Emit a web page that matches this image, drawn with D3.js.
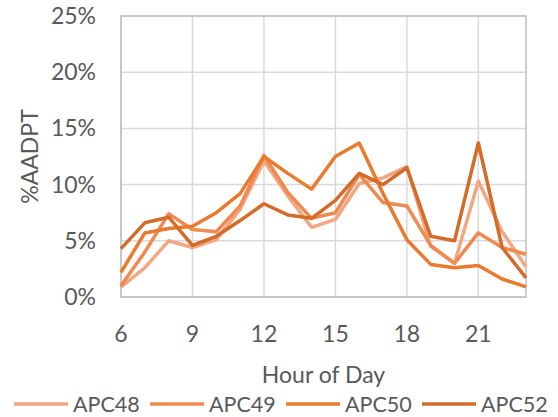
<!DOCTYPE html>
<html lang="en">
<head>
    <meta charset="UTF-8">
    <title>%AADPT by Hour of Day</title>
    <script src="https://d3js.org/d3.v7.min.js"></script>
    <style>
        body { margin: 0; background: #fff; font-family: 'Lato', sans-serif; }
        text { fill: #595959; }
    </style>
</head>
<body>
<div id="chart"></div>
<script>
    // data
    const hours = [6, 7, 8, 9, 10, 11, 12, 13, 14, 15, 16, 17, 18, 19, 20, 21, 22, 23];
    const seriesNames = ['APC48', 'APC49', 'APC50', 'APC52'];
    const apc48 = [0.9, 2.6, 5.0, 4.4, 5.1, 7.8, 12.1, 9.0, 6.2, 6.9, 10.1, 10.6, 11.6, 4.5, 3.0, 10.3, 5.8, 2.7];
    const apc49 = [1.0, 4.0, 7.4, 6.0, 5.8, 8.1, 12.6, 9.3, 7.0, 7.5, 10.9, 8.4, 8.1, 4.6, 3.0, 5.7, 4.4, 3.8];
    const apc50 = [2.2, 5.7, 6.1, 6.3, 7.5, 9.2, 12.5, 11.0, 9.6, 12.5, 13.7, 9.2, 5.1, 2.9, 2.6, 2.8, 1.6, 0.9];
    const apc52 = [4.3, 6.6, 7.1, 4.6, 5.4, 6.8, 8.3, 7.3, 7.0, 8.6, 11.0, 10.0, 11.5, 5.4, 5.0, 13.7, 4.4, 1.7];
    const xTicks = [6, 9, 12, 15, 18, 21];
    const yTicks = [0, 5, 10, 15, 20, 25];

    const colors = ['#F4A582', '#EF8A50', '#E97A2E', '#D46B28'];
    const allSeries = [apc48, apc49, apc50, apc52];

    const width = 558, height = 417;
    const margin = { top: 16, right: 32, bottom: 120, left: 121 };
    const fontSize = '23px';

    const svg = d3.select('#chart').append('svg')
        .attr('width', width)
        .attr('height', height);

    const x = d3.scaleLinear().domain([6, 23]).range([margin.left, width - margin.right]);
    const y = d3.scaleLinear().domain([0, 25]).range([height - margin.bottom, margin.top]);

    // gridlines
    svg.append('g')
        .selectAll('line.h')
        .data(yTicks)
        .enter().append('line')
        .attr('x1', x(6)).attr('x2', x(23))
        .attr('y1', d => y(d)).attr('y2', d => y(d))
        .attr('stroke', '#D9D9D9').attr('stroke-width', 1.5);

    svg.append('g')
        .selectAll('line.v')
        .data(xTicks)
        .enter().append('line')
        .attr('x1', d => x(d)).attr('x2', d => x(d))
        .attr('y1', y(0)).attr('y2', y(25))
        .attr('stroke', '#D9D9D9').attr('stroke-width', 1.5);

    // plot border
    svg.append('rect')
        .attr('x', x(6)).attr('y', y(25))
        .attr('width', x(23) - x(6)).attr('height', y(0) - y(25))
        .attr('fill', 'none').attr('stroke', '#BFBFBF').attr('stroke-width', 1.5);

    // tick labels
    svg.append('g')
        .selectAll('text')
        .data(yTicks)
        .enter().append('text')
        .attr('x', 96)
        .attr('y', d => y(d))
        .attr('dy', '0.35em')
        .attr('text-anchor', 'end')
        .style('font-size', fontSize)
        .text(d => d + '%');

    svg.append('g')
        .selectAll('text')
        .data(xTicks)
        .enter().append('text')
        .attr('x', d => x(d))
        .attr('y', 342)
        .attr('text-anchor', 'middle')
        .style('font-size', fontSize)
        .text(d => d);

    // axis titles
    svg.append('text')
        .attr('x', (x(6) + x(23)) / 2)
        .attr('y', 383)
        .attr('text-anchor', 'middle')
        .style('font-size', fontSize)
        .text('Hour of Day');

    svg.append('text')
        .attr('transform', 'rotate(-90)')
        .attr('x', -(y(0) + y(25)) / 2)
        .attr('y', 38)
        .attr('text-anchor', 'middle')
        .style('font-size', fontSize)
        .text('%AADPT');

    // lines
    const line = d3.line()
        .x((d, i) => x(hours[i]))
        .y(d => y(d));

    svg.append('g')
        .selectAll('path')
        .data(allSeries)
        .enter().append('path')
        .attr('d', line)
        .attr('fill', 'none')
        .attr('stroke', (d, i) => colors[i])
        .attr('stroke-width', 3.5)
        .attr('stroke-linejoin', 'round');

    // legend
    const legend = svg.selectAll('.legend')
        .data(seriesNames)
        .enter().append('g')
        .attr('class', 'legend')
        .attr('transform', (d, i) => `translate(${14 + i * 136},404)`);

    legend.append('line')
        .attr('x1', 0).attr('x2', 54)
        .attr('y1', 0).attr('y2', 0)
        .attr('stroke', (d, i) => colors[i])
        .attr('stroke-width', 3.5);

    legend.append('text')
        .attr('x', 59)
        .attr('y', 0)
        .attr('dy', '0.35em')
        .style('font-size', '21.5px')
        .text(d => d);
</script>
</body>
</html>
